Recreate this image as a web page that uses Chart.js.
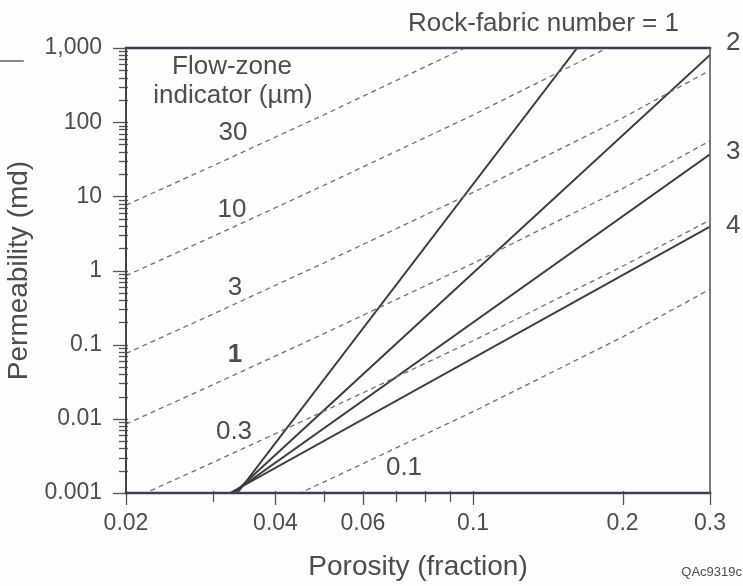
<!DOCTYPE html>
<html>
<head>
<meta charset="utf-8">
<script src="https://cdn.jsdelivr.net/npm/chart.js@4.4.1/dist/chart.umd.min.js"></script>
<style>
  html, body { margin: 0; padding: 0; background: #fdfdfd; }
  #wrap { width: 743px; height: 586px; }
</style>
</head>
<body>
<div id="wrap"><canvas id="chart" width="743" height="586"></canvas></div>
<script>
var porosity = [0.02, 0.03, 0.05, 0.1, 0.2, 0.3];

// flow-zone indicator lines, permeability in md
var fziNames = ['30', '10', '3', '1', '0.3', '0.1'];
var fzi30 = [7.6, 26, 125, 1130, null, null];
var fzi10 = [0.85, 2.9, 14, 125, 1270, null];
var fzi3 = [0.076, 0.26, 1.26, 11.3, 114, 500];
var fzi1 = [0.0085, 0.029, 0.14, 1.25, 12.7, 56];
var fzi03 = [0.00076, 0.0026, 0.0126, 0.113, 1.14, 4.8];
var fzi01 = [0.000084, 0.00029, 0.0014, 0.0125, 0.127, 0.56];

// rock-fabric number lines (start and end points)
var rfcNames = ['1', '2', '3', '4'];
var rfc1Phi = [0.0335, 0.162], rfc1Perm = [0.001, 1000];
var rfc2Phi = [0.033, 0.3], rfc2Perm = [0.001, 805];
var rfc3Phi = [0.0328, 0.3], rfc3Perm = [0.001, 37];
var rfc4Phi = [0.0324, 0.3], rfc4Perm = [0.001, 3.9];

// axis ticks
var xTicks = [0.02, 0.03, 0.04, 0.05, 0.06, 0.07, 0.08, 0.09, 0.1, 0.2, 0.3];
var xLabelled = [0.02, 0.04, 0.06, 0.1, 0.2, 0.3];
var yDecades = [0.001, 0.01, 0.1, 1, 10, 100, 1000];
var yTickText = ['0.001', '0.01', '0.1', '1', '10', '100', '1,000'];

var FONT = "'Liberation Sans', Arial, sans-serif";
var TEXT = '#4d4d4d';

function toPoints(xs, ys) {
    return xs.map(function(x, i) { return { x: x, y: ys[i] }; })
             .filter(function(p) { return p.y !== null; });
}

var fziSeries = [fzi30, fzi10, fzi3, fzi1, fzi03, fzi01];
var rfcSeries = [[rfc1Phi, rfc1Perm], [rfc2Phi, rfc2Perm], [rfc3Phi, rfc3Perm], [rfc4Phi, rfc4Perm]];

var datasets = [];
fziSeries.forEach(function(s, i) {
    datasets.push({
        label: 'FZI ' + fziNames[i],
        data: toPoints(porosity, s),
        borderColor: '#707070',
        borderWidth: 1.3,
        borderDash: [5, 4],
        pointRadius: 0,
        fill: false,
        tension: 0
    });
});
rfcSeries.forEach(function(s, i) {
    datasets.push({
        label: 'Rock-fabric ' + rfcNames[i],
        data: toPoints(s[0], s[1]),
        borderColor: '#3c3c3c',
        borderWidth: 2,
        pointRadius: 0,
        fill: false,
        tension: 0
    });
});

function isDecade(v) {
    var l = Math.log10(v);
    return Math.abs(l - Math.round(l)) < 1e-9;
}

// frame, tick marks and the text written on the plot
var decorations = {
    id: 'decorations',
    afterDraw: function(chart) {
        var ctx = chart.ctx, a = chart.chartArea;
        var xs = chart.scales.x, ys = chart.scales.y;
        ctx.save();

        // tick marks
        ctx.strokeStyle = '#555';
        ctx.lineWidth = 1.3;
        ys.ticks.forEach(function(t) {
            var py = Math.round(ys.getPixelForValue(t.value)) + 0.5;
            var major = isDecade(t.value);
            ctx.beginPath();
            ctx.moveTo(a.left - (major ? 13 : 7), py);
            ctx.lineTo(a.left + 2, py);
            ctx.stroke();
        });
        xs.ticks.forEach(function(t) {
            var px = Math.round(xs.getPixelForValue(t.value)) + 0.5;
            var major = xLabelled.indexOf(t.value) >= 0;
            ctx.beginPath();
            ctx.moveTo(px, a.bottom - 2);
            ctx.lineTo(px, a.bottom + (major ? 12 : 9));
            ctx.stroke();
        });

        // frame
        ctx.lineCap = 'square';
        ctx.strokeStyle = '#3e3e56';
        ctx.lineWidth = 2.5;
        ctx.beginPath(); ctx.moveTo(a.left, a.top); ctx.lineTo(a.right, a.top); ctx.stroke();
        ctx.beginPath(); ctx.moveTo(a.left, a.bottom); ctx.lineTo(a.right, a.bottom); ctx.stroke();
        ctx.strokeStyle = '#444';
        ctx.lineWidth = 2;
        ctx.beginPath(); ctx.moveTo(a.left, a.top); ctx.lineTo(a.left, a.bottom); ctx.stroke();
        ctx.strokeStyle = '#5a5a5a';
        ctx.lineWidth = 1.6;
        ctx.beginPath(); ctx.moveTo(a.right, a.top); ctx.lineTo(a.right, a.bottom); ctx.stroke();

        // stray mark from the scan, top left
        ctx.strokeStyle = '#606070';
        ctx.lineWidth = 1.5;
        ctx.beginPath(); ctx.moveTo(0, 61); ctx.lineTo(23, 61); ctx.stroke();

        ctx.fillStyle = TEXT;
        ctx.textAlign = 'center';
        ctx.textBaseline = 'middle';

        ctx.font = '26px ' + FONT;
        ctx.fillText('Flow-zone', 232, 67);
        ctx.fillText('indicator (\u00b5m)', 233, 96);

        // flow-zone indicator values
        var fziPos = [[233, 133], [232, 210], [235, 288], [235, 355], [234, 432], [404, 468]];
        fziNames.forEach(function(n, i) {
            ctx.font = (n === '1' ? 'bold ' : '') + '26px ' + FONT;
            ctx.fillText(n, fziPos[i][0], fziPos[i][1]);
        });

        // rock-fabric numbers
        ctx.font = '26px ' + FONT;
        ctx.textAlign = 'left';
        ctx.fillText('Rock-fabric number = ' + rfcNames[0], 408, 24);
        var rfcY = [43, 152, 226];
        for (var i = 1; i < rfcNames.length; i++) {
            ctx.fillText(rfcNames[i], 726, rfcY[i - 1]);
        }

        ctx.font = '13px ' + FONT;
        ctx.textAlign = 'right';
        ctx.fillText('QAc9319c', 742, 572);
        ctx.restore();
    }
};

var ctx = document.getElementById('chart').getContext('2d');
var myChart = new Chart(ctx, {
    type: 'line',
    data: { datasets: datasets },
    options: {
        responsive: false,
        animation: false,
        layout: { padding: { left: 0, right: 32, top: 48, bottom: 0 } },
        plugins: {
            legend: { display: false },
            tooltip: { enabled: false }
        },
        scales: {
            x: {
                type: 'logarithmic',
                min: 0.02,
                max: 0.3,
                afterBuildTicks: function(scale) {
                    scale.ticks = xTicks.map(function(v) { return { value: v }; });
                },
                afterFit: function(scale) { scale.height = 93; },
                grid: { display: false, drawTicks: false },
                border: { display: false },
                ticks: {
                    autoSkip: false,
                    maxRotation: 0,
                    padding: 17,
                    color: TEXT,
                    font: { family: FONT, size: 23 },
                    callback: function(v) {
                        return xLabelled.indexOf(v) >= 0 ? String(v) : '';
                    }
                },
                title: {
                    display: true,
                    text: 'Porosity (fraction)',
                    color: TEXT,
                    font: { family: FONT, size: 28 },
                    padding: { top: 0, bottom: 2 }
                }
            },
            y: {
                type: 'logarithmic',
                min: 0.001,
                max: 1000,
                afterBuildTicks: function(scale) {
                    var t = [];
                    yDecades.forEach(function(d, i) {
                        if (i === yDecades.length - 1) { t.push({ value: d }); return; }
                        for (var m = 1; m < 10; m++) t.push({ value: +(d * m).toPrecision(6) });
                    });
                    scale.ticks = t;
                },
                afterFit: function(scale) { scale.width = 126; },
                grid: { display: false, drawTicks: false },
                border: { display: false },
                ticks: {
                    autoSkip: false,
                    padding: 24,
                    color: TEXT,
                    font: { family: FONT, size: 23 },
                    callback: function(v) {
                        var i = yDecades.indexOf(v);
                        return i >= 0 ? yTickText[i] : '';
                    }
                },
                title: {
                    display: true,
                    text: 'Permeability (md)',
                    color: TEXT,
                    font: { family: FONT, size: 28 },
                    padding: { top: 2, bottom: 0 }
                }
            }
        }
    },
    plugins: [decorations]
});
</script>
</body>
</html>
